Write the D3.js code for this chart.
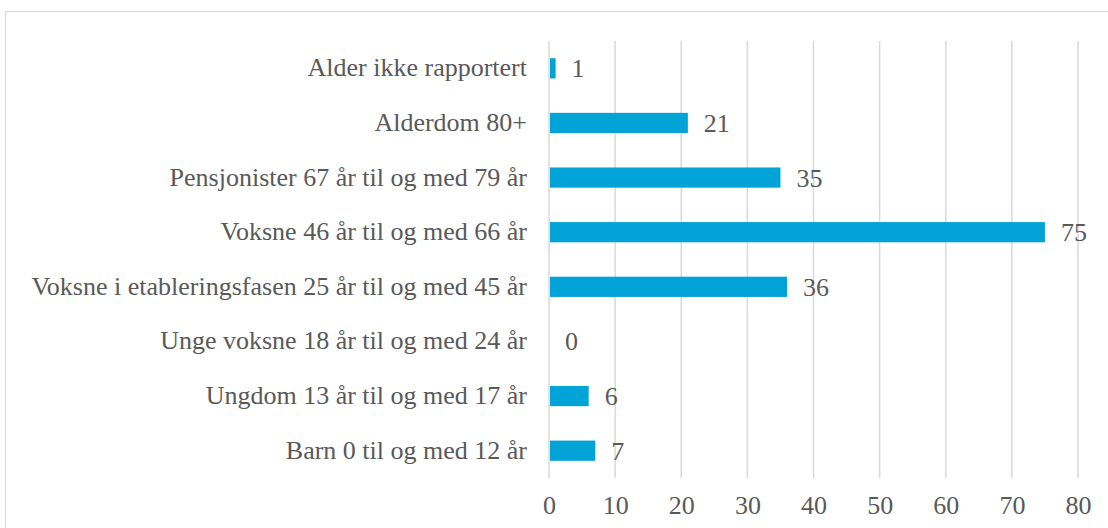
<!DOCTYPE html>
<html><head><meta charset="utf-8">
<script src="https://cdn.jsdelivr.net/npm/d3@7"></script>
<style>body{margin:0;background:#fff}svg{display:block}text{font-family:"Liberation Serif","DejaVu Serif",serif;fill:#595959}</style>
</head><body><svg id="c" width="1108" height="528"></svg>
<script>
const categories = ["Alder ikke rapportert","Alderdom 80+","Pensjonister 67 år til og med 79 år","Voksne 46 år til og med 66 år","Voksne i etableringsfasen 25 år til og med 45 år","Unge voksne 18 år til og med 24 år","Ungdom 13 år til og med 17 år","Barn 0 til og med 12 år"];
const values = [1,21,35,75,36,0,6,7];
const tickValues = [0,10,20,30,40,50,60,70,80];

const FS = 26;
const svg = d3.select("#c");
svg.append("rect").attr("x",5.5).attr("y",11.5).attr("width",1120).attr("height",540)
  .attr("fill","none").attr("stroke","#d9d9d9").attr("stroke-width",1);

const x = d3.scaleLinear().domain([0,80]).range([549,1078]);
const y = d3.scaleBand().domain(categories).range([41,478]).paddingInner(0.63).paddingOuter(0.315);

svg.append("g").selectAll("line").data(tickValues).join("line")
  .attr("x1",d=>x(d)).attr("x2",d=>x(d)).attr("y1",41).attr("y2",478)
  .attr("stroke","#d9d9d9").attr("stroke-width",1.5);

svg.append("g").selectAll("rect").data(values).join("rect")
  .attr("x",x(0)+1).attr("y",(d,i)=>y(categories[i]))
  .attr("width",d=>Math.max(0,x(d)-x(0)-1)).attr("height",y.bandwidth())
  .attr("fill","#02a3d6");

svg.append("g").selectAll("text").data(values).join("text")
  .attr("x",d=>x(d)+16).attr("y",(d,i)=>y(categories[i])+y.bandwidth()/2+9)
  .attr("font-size",FS).text(d=>d);

svg.append("g").selectAll("text").data(categories).join("text")
  .attr("x",527).attr("y",d=>y(d)+y.bandwidth()/2+8).attr("text-anchor","end")
  .attr("font-size",FS).text(d=>d);

const ax = svg.append("g").attr("transform","translate(0,478)")
  .call(d3.axisBottom(x).tickValues(tickValues).tickSize(0));
ax.select(".domain").remove();
ax.selectAll("text").attr("y",36).attr("dy",0).attr("font-size",FS)
  .attr("font-family",'"Liberation Serif",serif').attr("fill","#595959");
</script></body></html>
